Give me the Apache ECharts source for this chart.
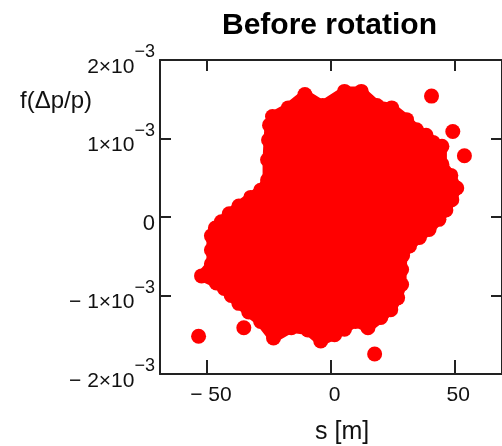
<!DOCTYPE html>
<html>
<head>
<meta charset="utf-8">
<style>html,body{margin:0;padding:0;background:#fff;}#c{width:502px;height:446px;}</style>
<script src="https://cdn.jsdelivr.net/npm/echarts@6/dist/echarts.min.js"></script>
</head>
<body>
<div id="c"></div>
<script>
// Blob outline (centres of the edge particles), s in m, f(Δp/p)
const blobS = [-23.5,-17.1,-10.4,-3.2,5.6,12.4,18.7,24.7,30.7,34.7,38.6,41.4,45.0,45.0,48.6,51.0,49.0,46.6,43.8,39.8,35.9,31.9,29.1,28.7,28.7,27.1,24.3,20.3,15.1,10.0,5.6,1.6,-4.0,-9.2,-15.9,-23.1,-28.3,-33.1,-37.1,-40.2,-43.0,-46.2,-52.2,-48.2,-48.2,-48.2,-46.6,-44.2,-41.0,-37.1,-32.3,-28.3,-25.5,-25.5,-25.1,-24.7];
const blobF = [1.28e-3,1.39e-3,1.56e-3,1.42e-3,1.60e-3,1.60e-3,1.42e-3,1.39e-3,1.24e-3,1.11e-3,1.04e-3,0.95e-3,0.90e-3,0.67e-3,0.53e-3,0.37e-3,0.22e-3,0.09e-3,-0.03e-3,-0.16e-3,-0.26e-3,-0.37e-3,-0.49e-3,-0.67e-3,-0.86e-3,-1.03e-3,-1.18e-3,-1.28e-3,-1.41e-3,-1.33e-3,-1.43e-3,-1.50e-3,-1.58e-3,-1.44e-3,-1.41e-3,-1.54e-3,-1.33e-3,-1.21e-3,-1.10e-3,-1.00e-3,-0.91e-3,-0.84e-3,-0.75e-3,-0.60e-3,-0.42e-3,-0.24e-3,-0.14e-3,-0.06e-3,0.04e-3,0.14e-3,0.25e-3,0.34e-3,0.47e-3,0.73e-3,0.98e-3,1.17e-3];
// isolated particles
const outS = [40.8,49.4,54.1,17.8,-53.4,-35.1];
const outF = [1.54e-3,1.09e-3,0.78e-3,-1.745e-3,-1.52e-3,-1.41e-3];

const xTickValues = [-50,0,50];
const xTickLabels = ['− 50','0','50'];
const yTickValues = [-2e-3,-1e-3,0,1e-3,2e-3];
const yTickMant = ['− 2','− 1','0','1','2'];

const FONT = '"Liberation Sans",Arial,sans-serif';
const AX = '#222';
const TXT = '#111';

const chart = echarts.init(document.getElementById('c'));

function yFmt(v){
  let i = yTickValues.findIndex(t => Math.abs(t - v) < 1e-9);
  if (i < 0) return '';
  const m = yTickMant[i];
  if (m === '0') return '{z|0}';
  return '{b|' + m + '×10}{s|−3}';
}
function xFmt(v){
  let i = xTickValues.findIndex(t => Math.abs(t - v) < 1e-9);
  return i < 0 ? '' : xTickLabels[i];
}

const pts = blobS.map((s,i)=>[s, blobF[i]]).concat(outS.map((s,i)=>[s,outF[i]]));

chart.setOption({
  animation: false,
  title: [
    {text:'Before rotation', left:217, top:6, textStyle:{fontFamily:FONT, fontWeight:'bold', fontSize:30, color:'#000'}},
    {text:'f(Δp/p)', left:15, top:84, textStyle:{fontFamily:FONT, fontWeight:'normal', fontSize:24, color:TXT}},
    {text:'s [m]', left:310, top:415, textStyle:{fontFamily:FONT, fontWeight:'normal', fontSize:25, color:TXT}}
  ],
  grid: {left:160, top:60, right:-5, bottom:72, containLabel:false},
  xAxis: [
    {type:'value', position:'bottom', min:-69, max:69.3,
     axisLine:{show:true, onZero:false, lineStyle:{color:AX, width:2}},
     axisTick:{show:true, inside:true, length:14, customValues:xTickValues, lineStyle:{color:AX, width:2}},
     axisLabel:{show:true, customValues:xTickValues, formatter:xFmt, margin:11, padding:[0,0,0,8],
       fontFamily:FONT, fontSize:21, color:TXT},
     splitLine:{show:false}},
    {type:'value', position:'top', min:-69, max:69.3,
     axisLine:{show:true, onZero:false, lineStyle:{color:AX, width:2}},
     axisTick:{show:true, inside:true, length:11, customValues:xTickValues, lineStyle:{color:AX, width:2}},
     axisLabel:{show:false}, splitLine:{show:false}}
  ],
  yAxis: [
    {type:'value', position:'left', min:-2e-3, max:2e-3,
     axisLine:{show:true, onZero:false, lineStyle:{color:AX, width:2}},
     axisTick:{show:true, inside:true, length:11, customValues:yTickValues, lineStyle:{color:AX, width:2}},
     axisLabel:{show:true, customValues:yTickValues, formatter:yFmt, margin:5, padding:[13,0,0,0],
       color:TXT,
       rich:{
         b:{fontFamily:FONT, fontSize:21, lineHeight:22, color:TXT, verticalAlign:'bottom'},
         s:{fontFamily:FONT, fontSize:18, lineHeight:18, color:TXT, padding:[0,0,16,0], verticalAlign:'bottom'},
         z:{fontFamily:FONT, fontSize:22, lineHeight:22, color:TXT, padding:[0,0,0,0]}
       }},
     splitLine:{show:false}},
    {type:'value', position:'right', min:-2e-3, max:2e-3,
     axisLine:{show:true, onZero:false, lineStyle:{color:AX, width:2}},
     axisTick:{show:true, inside:true, length:11, customValues:yTickValues, lineStyle:{color:AX, width:2}},
     axisLabel:{show:false}, splitLine:{show:false}}
  ],
  series: [
    {type:'custom', xAxisIndex:0, yAxisIndex:0, silent:true, clip:true,
     data:[[0,0]],
     renderItem:function(params, api){
       const poly = blobS.map((s,i)=>api.coord([s, blobF[i]]));
       return {type:'polygon', shape:{points:poly},
         style:{fill:'#ff0000', stroke:'#ff0000', lineWidth:10, lineJoin:'round'}};
     }},
    {type:'scatter', xAxisIndex:0, yAxisIndex:0, symbol:'circle', symbolSize:15, silent:true,
     itemStyle:{color:'#ff0000', opacity:1}, data:pts}
  ]
});
</script>
</body>
</html>
